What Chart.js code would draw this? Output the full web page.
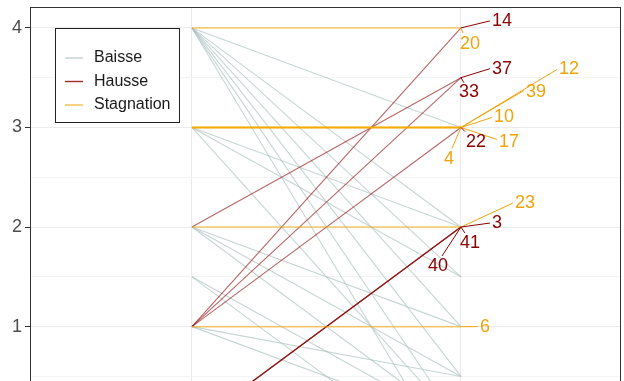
<!DOCTYPE html>
<html lang="fr">
<head>
<meta charset="UTF-8">
<meta name="viewport" content="width=device-width, initial-scale=1.0">
<title>Évolution des scores</title>
<script src="https://cdn.jsdelivr.net/npm/chart.js"></script>
<style>
    html, body { margin: 0; padding: 0; background: #fff; overflow: hidden; }
    /* the panel runs past the bottom of the window */
    #wrap { width: 624px; height: 381px; overflow: hidden; }
</style>
</head>
<body>
<div id="wrap"><canvas id="slope" width="624" height="480"></canvas></div>
<script>
// one entry per line: label shown at the right end, start score, end score, status
const ids    = [null, null, null, null, null, null, null, null, null, null, null, null, null, null, null, null, null,
                '14', '37', '33', '22', '3', '41', '40',
                '20', '12', '39', '10', '17', '4', '23', '6'];
const debut  = [4, 4, 4, 4, 4, 4, 4, 3, 3, 3, 2, 2, 2, 1.5, 1.5, 1, 1,
                1, 2, 1, 1, 0, 0, 0,
                4, 3, 3, 3, 3, 3, 2, 1];
const fin    = [3, 2, 1.5, 1, 0.5, 0, -0.5, 2, 1.5, 0, 1, 0.5, 0, 0, -0.5, 0.5, 0,
                4, 3.5, 3.5, 3, 2, 2, 2,
                4, 3, 3, 3, 3, 3, 2, 1];
const statut = ['Baisse', 'Baisse', 'Baisse', 'Baisse', 'Baisse', 'Baisse', 'Baisse', 'Baisse', 'Baisse',
                'Baisse', 'Baisse', 'Baisse', 'Baisse', 'Baisse', 'Baisse', 'Baisse', 'Baisse',
                'Hausse', 'Hausse', 'Hausse', 'Hausse', 'Hausse', 'Hausse', 'Hausse',
                'Stagnation', 'Stagnation', 'Stagnation', 'Stagnation', 'Stagnation', 'Stagnation',
                'Stagnation', 'Stagnation'];
const categories = ['Baisse', 'Hausse', 'Stagnation'];
const yTicks = [1, 2, 3, 4];
const yMinor = [-0.5, 0, 0.5, 1.5, 2.5, 3.5];

const lineColor  = { Baisse: 'rgba(170,190,190,0.65)', Hausse: 'rgba(139,0,0,0.6)', Stagnation: 'rgba(245,170,0,0.6)' };
const lineWidth  = { Baisse: 1.1, Hausse: 1.1, Stagnation: 1.5 };
const labelColor = { Hausse: '#8b0000', Stagnation: '#f0a30a' };
const drawRank   = { Stagnation: 0, Hausse: 1, Baisse: 2 };   // 0 = on top

// text offset (dx, dy) and leader end (sx, sy) from the line's right end, in px
const labelNudge = {
    '14': [31, -7, 29, -7],   '20': [-1, 16, 2, 5],
    '37': [31, -9, 29, -9],   '33': [-2, 14, 3, 5],
    '12': [98, -58, 96, -58], '39': [65, -35, 63, -37],
    '10': [33, -10, 31, -10], '22': [5, 15, 4, 4],
    '17': [38, 15, 36, 12],   '4':  [-17, 32, -9, 21],
    '23': [54, -24, 52, -24], '3':  [31, -4, 29, -4],
    '41': [-1, 16, 4, 6],     '40': [-33, 39, -19, 29],
    '6':  [19, 0, 17, 0]
};

// Chart.js paints the first dataset last, so the top layer goes first
const datasets = ids.map((id, i) => ({
    label: id || '',
    statut: statut[i],
    data: [{ x: 1, y: debut[i] }, { x: 2, y: fin[i] }],
    borderColor: lineColor[statut[i]],
    borderWidth: lineWidth[statut[i]],
    pointRadius: 0
})).sort((a, b) => drawRank[a.statut] - drawRank[b.statut]);

const labelsPlugin = {
    id: 'endLabels',
    afterDatasetsDraw(chart) {
        const ctx = chart.ctx;
        ctx.save();
        ctx.font = '18px "Liberation Sans", Arial, sans-serif';
        ctx.textAlign = 'left';
        ctx.textBaseline = 'middle';
        chart.data.datasets.forEach((ds, i) => {
            if (!ds.label) return;
            const pt = chart.getDatasetMeta(i).data[1];
            const n = labelNudge[ds.label] || [6, 0, 0, 0];
            const col = labelColor[ds.statut];
            ctx.strokeStyle = col;
            ctx.lineWidth = 1;
            ctx.beginPath();
            ctx.moveTo(pt.x, pt.y);
            ctx.lineTo(pt.x + n[2], pt.y + n[3]);
            ctx.stroke();
            ctx.fillStyle = col;
            ctx.fillText(ds.label, pt.x + n[0], pt.y + n[1]);
        });
        ctx.restore();
    }
};

const panelPlugin = {
    id: 'panel',
    afterDraw(chart) {
        const a = chart.chartArea, ctx = chart.ctx;
        ctx.save();
        ctx.strokeStyle = '#333';
        ctx.lineWidth = 1;
        ctx.strokeRect(Math.round(a.left) + 0.5, Math.round(a.top) + 0.5,
            Math.round(a.right - a.left) - 1, Math.round(a.bottom - a.top));

        // legend box inside the panel
        ctx.fillStyle = '#fff';
        ctx.fillRect(55.5, 28.5, 124, 94);
        ctx.strokeStyle = '#222';
        ctx.strokeRect(55.5, 28.5, 124, 94);
        ctx.font = '16px "Liberation Sans", Arial, sans-serif';
        ctx.textBaseline = 'middle';
        categories.forEach((c, k) => {
            const y = 58 + k * 23.5;
            ctx.strokeStyle = c === 'Baisse' ? 'rgba(170,190,190,0.7)' : c === 'Hausse' ? '#a52a2a' : 'rgba(242,163,0,0.7)';
            ctx.lineWidth = 1.4;
            ctx.beginPath();
            ctx.moveTo(65, y);
            ctx.lineTo(83, y);
            ctx.stroke();
            ctx.fillStyle = '#1a1a1a';
            ctx.fillText(c, 94, y);
        });
        ctx.restore();
    }
};

const noPad = s => { s.paddingTop = 0; s.paddingBottom = 0; s.paddingLeft = 0; s.paddingRight = 0; };

new Chart(document.getElementById('slope'), {
    type: 'line',
    data: { datasets },
    options: {
        responsive: false,
        animation: false,
        devicePixelRatio: 1,
        layout: { padding: { top: 7, right: 3, bottom: 4, left: 0 } },
        plugins: { legend: { display: false }, tooltip: { enabled: false } },
        scales: {
            x: {
                type: 'linear',
                min: 0.398,
                max: 2.595,
                afterBuildTicks: s => { s.ticks = [{ value: 1 }, { value: 2 }]; },
                afterFit: s => { s.height = 0; noPad(s); },
                ticks: { display: false },
                grid: { color: '#ebebeb', drawTicks: false },
                border: { display: false }
            },
            y: {
                min: -0.5,
                max: 4.21,
                afterBuildTicks: s => {
                    s.ticks = yMinor.concat(yTicks).sort((a, b) => a - b).map(v => ({ value: v }));
                },
                afterFit: s => { s.width = 30; noPad(s); },
                ticks: {
                    padding: 3,
                    color: '#4d4d4d',
                    font: { size: 18, family: '"Liberation Sans", Arial, sans-serif' },
                    callback: v => yTicks.includes(v) ? String(v) : ''
                },
                grid: {
                    tickLength: 5,
                    color: c => yTicks.includes(c.tick.value) ? '#ebebeb' : '#f4f4f4',
                    tickColor: c => yTicks.includes(c.tick.value) ? '#333' : 'rgba(0,0,0,0)'
                },
                border: { display: true, color: '#333' }
            }
        }
    },
    plugins: [labelsPlugin, panelPlugin]
});
</script>
</body>
</html>
